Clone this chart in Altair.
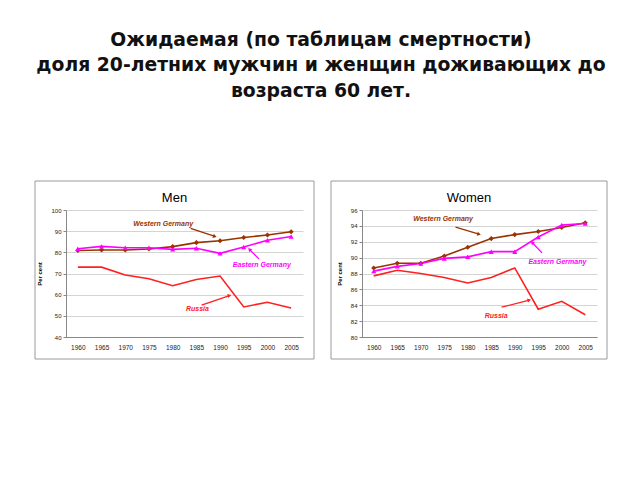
import altair as alt
import pandas as pd

years = [1960, 1965, 1970, 1975, 1980, 1985, 1990, 1995, 2000, 2005]

men_west = [80.9, 81.1, 81.1, 81.6, 82.7, 84.6, 85.5, 87.0, 88.2, 89.7]
men_east = [81.7, 82.8, 82.2, 82.2, 81.4, 81.9, 79.5, 82.5, 85.7, 87.5]
men_russia = [73.0, 73.0, 69.3, 67.5, 64.2, 67.2, 68.8, 54.2, 56.4, 53.7]

women_west = [88.7, 89.3, 89.3, 90.2, 91.3, 92.4, 92.9, 93.3, 93.8, 94.4]
women_east = [88.3, 88.9, 89.25, 89.9, 90.1, 90.75, 90.75, 92.6, 94.1, 94.3]
women_russia = [87.7, 88.4, 88.0, 87.5, 86.8, 87.5, 88.7, 83.5, 84.5, 82.8]

series_names = ["Western Germany", "Eastern Germany", "Russia"]
series_colors = ["#993300", "#FF00FF", "#FF2020"]
series_shapes = ["diamond", "triangle-up", "none"]

# annotation labels: (text, start year, value)
men_labels = [("Western Germany", 1971.7, 93.3), ("Eastern Germany", 1992.7, 74.1), ("Russia", 1982.8, 53.4)]
women_labels = [("Western Germany", 1968.4, 94.9), ("Eastern Germany", 1992.9, 89.5), ("Russia", 1983.6, 82.6)]
# arrows: (x from, y from, x to, y to, head angle)
men_arrows = [(1983.8, 91.3, 1988.9, 87.5, 108), (1998.2, 76.9, 1996.2, 81.4, 315), (1986.1, 55.1, 1992.0, 59.6, 72)]
women_arrows = [(1977.4, 93.85, 1982.4, 92.95, 106), (1995.8, 90.6, 1993.7, 91.9, 314), (1987.2, 83.75, 1993.1, 84.65, 76)]

FONT = "Liberation Sans"
H = 127


def panel(title, west, east, russia, ydomain, ystep, labels, arrows, W, fr):
    rows = []
    for name, color, shape, vals in zip(series_names, series_colors, series_shapes, [west, east, russia]):
        for yr, v in zip(years, vals):
            rows.append({"year": yr, "value": v, "series": name, "color": color, "shape": shape})
    df = pd.DataFrame(rows)

    xs = alt.Scale(domain=[1957.5, 2007.5], nice=False, zero=False)
    ys = alt.Scale(domain=ydomain, nice=False, zero=False)
    xax = alt.Axis(values=years, format="d", title=None, grid=False, ticks=False,
                   labelFontSize=6.5, labelPadding=7, domainColor="#888888", labelColor="#222222",
                   labelFont=FONT, labelOverlap=False, labelFlush=False)
    yax = alt.Axis(values=list(range(ydomain[0], ydomain[1] + 1, ystep)), title="Per cent",
                   grid=True, gridColor="#d4d4d4", tickSize=3, tickColor="#888888",
                   domainColor="#888888", labelFontSize=6, labelFont=FONT, labelColor="#222222",
                   labelOverlap=False, labelFlush=False,
                   titleFontSize=6, titleFont=FONT, titleFontWeight="bold", titlePadding=8)

    def X(f):
        return alt.X(f, type="quantitative", scale=xs, axis=xax)

    def Y(f):
        return alt.Y(f, type="quantitative", scale=ys, axis=yax)

    lines = alt.Chart(df).mark_line(strokeWidth=1.6).encode(
        x=X("year"), y=Y("value"),
        color=alt.Color("color:N", scale=None),
        detail="series:N",
    )
    pts = alt.Chart(df).transform_filter(alt.datum.shape != "none").mark_point(
        filled=True, size=26, opacity=1).encode(
        x=X("year"), y=Y("value"),
        color=alt.Color("color:N", scale=None),
        shape=alt.Shape("shape:N", scale=None),
    )

    lab_df = pd.DataFrame([{"text": t, "x": x, "y": y, "color": c}
                           for (t, x, y), c in zip(labels, series_colors)])
    texts = alt.Chart(lab_df).mark_text(align="left", baseline="middle", fontSize=7,
                                        fontStyle="italic", fontWeight="bold", font=FONT).encode(
        x=X("x"), y=Y("y"), text="text:N",
        color=alt.Color("color:N", scale=None))

    arr_df = pd.DataFrame([{"x": a[0], "y": a[1], "x2": a[2], "y2": a[3], "angle": a[4], "color": c}
                           for a, c in zip(arrows, series_colors)])
    rules = alt.Chart(arr_df).mark_rule(strokeWidth=1.3).encode(
        x=X("x"), y=Y("y"),
        x2="x2:Q", y2="y2:Q", color=alt.Color("color:N", scale=None))
    heads = alt.Chart(arr_df).mark_point(shape="triangle-up", filled=True, size=18, opacity=1).encode(
        x=X("x2"), y=Y("y2"),
        angle=alt.Angle("angle:Q", scale=None), color=alt.Color("color:N", scale=None))

    one = pd.DataFrame({"k": [0]})
    frame = alt.Chart(one).mark_rect(fillOpacity=0, stroke="#9a9a9a", strokeWidth=1).encode(
        x=alt.value(-31), x2=alt.value(W + fr), y=alt.value(-29), y2=alt.value(H + 22))
    ttl = alt.Chart(one).mark_text(fontSize=13, font=FONT, baseline="alphabetic", color="#000000").encode(
        x=alt.value((W + fr - 31) / 2), y=alt.value(-8), text=alt.value(title))

    return alt.layer(frame, lines, pts, rules, heads, texts, ttl).properties(width=W, height=H)


men = panel("Men", men_west, men_east, men_russia, [40, 100], 10, men_labels, men_arrows, 237, 11)
women = panel("Women", women_west, women_east, women_russia, [80, 96], 2, women_labels, women_arrows, 235, 10)

chart = alt.hconcat(men, women, spacing=15).properties(
    title=alt.TitleParams(
        text=["Ожидаемая (по таблицам смертности)",
              "доля 20-летних мужчин и женщин доживающих до",
              "возраста 60 лет."],
        fontSize=18.8, font="DejaVu Sans", fontWeight="bold", anchor="middle", lineHeight=25.5,
        offset=80, color="#111111"),
    padding={"left": 26, "top": 22, "right": 0, "bottom": 0},
).configure_view(stroke=None)

chart.save("out.html", embed_options={"renderer": "svg", "actions": False})
